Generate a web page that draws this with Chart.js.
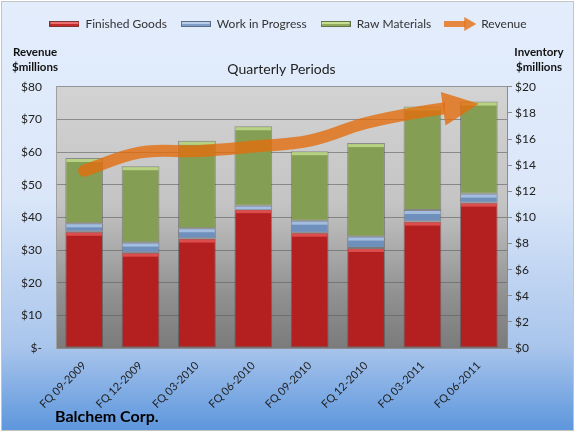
<!DOCTYPE html>
<html>
<head>
<meta charset="utf-8">
<script src="https://cdn.jsdelivr.net/npm/chart.js@4.4.1/dist/chart.umd.min.js"></script>
<style>
  html, body { margin: 0; padding: 0; background: #fff; }
  #balchemInventory { display: block; }
</style>
</head>
<body>
<canvas id="balchemInventory" width="576" height="433"></canvas>
<script>
const quarters = ['FQ 09-2009', 'FQ 12-2009', 'FQ 03-2010', 'FQ 06-2010', 'FQ 09-2010', 'FQ 12-2010', 'FQ 03-2011', 'FQ 06-2011'];

// inventory, $ millions (right axis)
const finishedGoods = [8.9, 7.3, 8.38, 10.63, 8.83, 7.66, 9.68, 11.13];
const workInProgress = [0.65, 0.77, 0.79, 0.27, 0.92, 0.87, 0.89, 0.69];
const rawMaterials = [5.0, 5.85, 6.69, 6.08, 5.32, 7.16, 7.92, 7.05];

// revenue, $ millions (left axis)
const revenue = [54.3, 59.9, 60.3, 61.7, 63.5, 68.9, 72.4, 74.8];

const revenueTicks = [0, 10, 20, 30, 40, 50, 60, 70, 80];
const inventoryTicks = [0, 2, 4, 6, 8, 10, 12, 14, 16, 18, 20];

const fontFamily = "Lato, 'Open Sans', sans-serif";
const arrowColor = 'rgba(228, 108, 10, 0.78)';

// small legend icons
function legendBar(fill, light) {
    const c = document.createElement('canvas');
    c.width = 30; c.height = 6;
    const g = c.getContext('2d');
    g.fillStyle = fill;
    g.fillRect(0, 0, 30, 6);
    g.fillStyle = light;
    g.fillRect(1, 1, 28, 2);
    g.strokeStyle = 'rgba(60,60,60,0.5)';
    g.strokeRect(0.5, 0.5, 29, 5);
    return c;
}

function legendArrow() {
    const c = document.createElement('canvas');
    c.width = 32; c.height = 14;
    const g = c.getContext('2d');
    g.fillStyle = arrowColor;
    g.fillRect(0, 4, 21, 6);
    g.beginPath();
    g.moveTo(20, 0);
    g.lineTo(32, 7);
    g.lineTo(20, 14);
    g.closePath();
    g.fill();
    return c;
}

const backgroundPlugin = {
    id: 'background',
    beforeDraw(chart) {
        const { ctx, width, height, chartArea } = chart;
        ctx.save();
        ctx.fillStyle = '#fff';
        ctx.fillRect(0, 0, width, height);
        const bg = ctx.createLinearGradient(0, 0, 0, height);
        bg.addColorStop(0, '#e3edfc');
        bg.addColorStop(0.45, '#dbe7f9');
        bg.addColorStop(0.8, '#a9c5ec');
        bg.addColorStop(1, '#5b95dc');
        ctx.fillStyle = bg;
        ctx.fillRect(2, 2, width - 5, height - 5);
        ctx.strokeStyle = '#c4c4c4';
        ctx.lineWidth = 1;
        ctx.strokeRect(1.5, 1.5, width - 4, height - 4);

        const pa = ctx.createLinearGradient(0, chartArea.top, 0, chartArea.bottom);
        pa.addColorStop(0, '#d3d3d3');
        pa.addColorStop(0.45, '#c4c4c4');
        pa.addColorStop(0.8, '#909090');
        pa.addColorStop(1, '#7b7b7b');
        ctx.fillStyle = pa;
        ctx.fillRect(chartArea.left, chartArea.top, chartArea.right - chartArea.left, chartArea.bottom - chartArea.top);
        ctx.restore();
    }
};

const barHighlights = ['#dc4d4d', '#a3bde0', '#b8d283'];

const arrowPlugin = {
    id: 'revenueArrow',
    afterDatasetDraw(chart, args) {
        const ds = chart.data.datasets[args.index];
        const ctx = chart.ctx;
        if (ds.type === 'bar') {
            // light bevel on the top of every segment
            ctx.save();
            ctx.fillStyle = barHighlights[args.index];
            args.meta.data.forEach(bar => {
                const w = bar.width;
                ctx.fillRect(bar.x - w / 2 + 1, bar.y + 1, w - 2, 3);
            });
            ctx.restore();
        }
        if (ds.type === 'line') {
            ctx.restore();
            const pts = args.meta.data;
            const tip = pts[pts.length - 1];
            let dx = tip.x - tip.cp1x, dy = tip.y - tip.cp1y;
            const len = Math.hypot(dx, dy) || 1;
            dx /= len; dy /= len;
            const headLen = 36, halfW = 17;
            const bx = tip.x - dx * headLen, by = tip.y - dy * headLen;
            ctx.save();
            ctx.fillStyle = arrowColor;
            ctx.beginPath();
            ctx.moveTo(tip.x, tip.y);
            ctx.lineTo(bx - dy * halfW, by + dx * halfW);
            ctx.lineTo(bx + dy * halfW, by - dx * halfW);
            ctx.closePath();
            ctx.fill();
            ctx.restore();
        }
    },
    beforeDatasetDraw(chart, args) {
        const ds = chart.data.datasets[args.index];
        if (ds.type !== 'line') return;
        const pts = args.meta.data;
        const tip = pts[pts.length - 1];
        // keep the shaft out of the arrow head
        chart.ctx.save();
        chart.ctx.beginPath();
        chart.ctx.rect(0, 0, tip.x - 34, chart.height);
        chart.ctx.clip();
    }
};

const textPlugin = {
    id: 'extraText',
    afterDraw(chart) {
        const { ctx, chartArea } = chart;
        ctx.save();
        ctx.fillStyle = '#111';
        ctx.textAlign = 'center';
        ctx.textBaseline = 'middle';
        ctx.font = 'bold 11.5px ' + fontFamily;
        ctx.fillText('Revenue', chartArea.left - 21, chartArea.top - 35);
        ctx.fillText('$millions', chartArea.left - 21, chartArea.top - 20);
        ctx.fillText('Inventory', chartArea.right + 32, chartArea.top - 35);
        ctx.fillText('$millions', chartArea.right + 32, chartArea.top - 20);
        ctx.textAlign = 'left';
        ctx.font = 'bold 16px ' + fontFamily;
        ctx.fillStyle = '#000';
        ctx.fillText('Balchem Corp.', 55, 417);
        ctx.restore();
    }
};

const barBorder = 'rgba(60, 60, 60, 0.45)';

new Chart(document.getElementById('balchemInventory').getContext('2d'), {
    data: {
        labels: quarters,
        datasets: [
            {
                type: 'bar',
                label: 'Finished Goods',
                data: finishedGoods,
                yAxisID: 'y1',
                backgroundColor: '#b41f20',
                borderColor: barBorder,
                borderWidth: 1,
                borderSkipped: false,
                pointStyle: legendBar('#c42a2a', '#ea7070'),
                order: 1
            },
            {
                type: 'bar',
                label: 'Work in Progress',
                data: workInProgress,
                yAxisID: 'y1',
                backgroundColor: '#6f90bc',
                borderColor: barBorder,
                borderWidth: 1,
                borderSkipped: false,
                pointStyle: legendBar('#7f9fcb', '#b8cdea'),
                order: 1
            },
            {
                type: 'bar',
                label: 'Raw Materials',
                data: rawMaterials,
                yAxisID: 'y1',
                backgroundColor: '#849e54',
                borderColor: barBorder,
                borderWidth: 1,
                borderSkipped: false,
                pointStyle: legendBar('#8fab5c', '#c6df90'),
                order: 1
            },
            {
                type: 'line',
                label: 'Revenue',
                data: revenue,
                yAxisID: 'y',
                stack: 'revenue',
                borderColor: arrowColor,
                borderWidth: 12,
                borderCapStyle: 'round',
                tension: 0.4,
                fill: false,
                pointRadius: 0,
                pointHoverRadius: 0,
                pointStyle: legendArrow(),
                order: 0
            }
        ]
    },
    options: {
        responsive: false,
        animation: false,
        devicePixelRatio: 1,
        layout: {
            padding: { top: 4, left: 0, right: 0, bottom: 0 }
        },
        plugins: {
            legend: {
                position: 'top',
                weight: 3000,
                labels: {
                    usePointStyle: true,
                    pointStyleWidth: 30,
                    boxHeight: 6,
                    padding: 14,
                    color: '#333',
                    font: { family: fontFamily, size: 12 },
                    sort: (a, b) => a.datasetIndex - b.datasetIndex
                }
            },
            title: {
                display: true,
                text: 'Quarterly Periods',
                fullSize: false,
                color: '#222',
                font: { family: fontFamily, size: 14, weight: 'normal' },
                padding: { top: 21, bottom: 9 }
            },
            tooltip: { enabled: false }
        },
        scales: {
            x: {
                stacked: true,
                afterFit: (scale) => { scale.height = 85; },
                grid: { display: false },
                border: { display: true, color: '#8c8c8c' },
                ticks: {
                    maxRotation: 45,
                    minRotation: 45,
                    color: '#222',
                    font: { family: fontFamily, size: 11 }
                }
            },
            y: {
                position: 'left',
                min: revenueTicks[0],
                max: revenueTicks[revenueTicks.length - 1],
                afterFit: (scale) => { scale.width = 56; },
                afterBuildTicks: (scale) => { scale.ticks = revenueTicks.map(v => ({ value: v })); },
                grid: { color: 'rgba(95, 95, 95, 0.6)', drawTicks: false },
                border: { display: true, color: '#a0a0a0' },
                ticks: {
                    padding: 14,
                    color: '#222',
                    font: { family: fontFamily, size: 12 },
                    callback: (v) => v === 0 ? '$-' : '$' + v
                }
            },
            y1: {
                position: 'right',
                stacked: true,
                min: inventoryTicks[0],
                max: inventoryTicks[inventoryTicks.length - 1],
                afterFit: (scale) => { scale.width = 69; },
                afterBuildTicks: (scale) => { scale.ticks = inventoryTicks.map(v => ({ value: v })); },
                grid: { drawOnChartArea: false, drawTicks: true, tickLength: 5, color: '#8c8c8c' },
                border: { display: true, color: '#8c8c8c' },
                ticks: {
                    padding: 3,
                    color: '#222',
                    font: { family: fontFamily, size: 12 },
                    callback: (v) => '$' + v
                }
            }
        },
        datasets: {
            bar: { categoryPercentage: 1, barPercentage: 0.67 }
        }
    },
    plugins: [backgroundPlugin, arrowPlugin, textPlugin]
});
</script>
</body>
</html>
